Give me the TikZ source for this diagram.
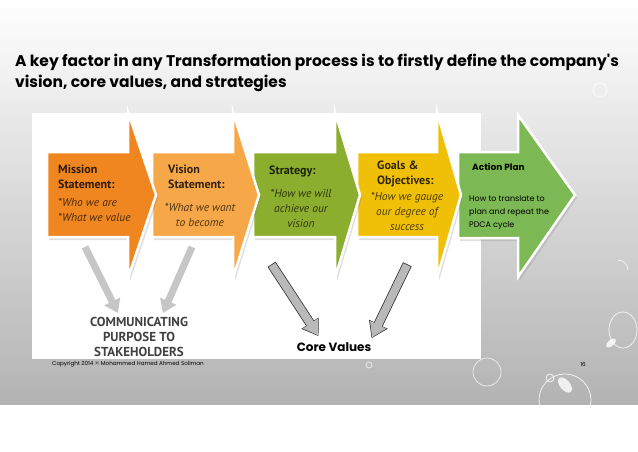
\documentclass[tikz,border=0pt]{standalone}
\usepackage{fontspec}
\usetikzlibrary{arrows.meta,positioning,shadows}
\newfontfamily\gothic{Poppins}
\newfontfamily\myriad{PT Sans}
\definecolor{missionorange}{RGB}{240,134,32}
\definecolor{visionorange}{RGB}{246,168,72}
\definecolor{strategygreen}{RGB}{140,174,46}
\definecolor{goalyellow}{RGB}{240,192,8}
\definecolor{actiongreen}{RGB}{124,185,84}
\definecolor{commgray}{RGB}{64,64,64}

\begin{document}
\begin{tikzpicture}[
    x=1pt,y=-1pt,
    stage/.style={fill=#1,draw=white,line width=2.5pt,line join=miter,
                  drop shadow={opacity=0.25,shadow xshift=2pt,shadow yshift=-3pt}},
    head/.style={font=\myriad\bfseries\fontsize{12}{15}\selectfont,align=left,
                 inner sep=0pt,text=black,text opacity=0.8},
    body/.style={font=\myriad\itshape\fontsize{11.5}{15}\selectfont,
                 inner sep=0pt,text=black,text opacity=0.68},
    commarrow/.style={draw=gray!45,line width=7pt,-{Triangle[width=17pt,length=13pt]}},
    corearrow/.style={draw=gray!55,line width=8pt,-{Triangle[width=17pt,length=14pt]},
                      preaction={draw=gray!40!black,line width=9.6pt,
                                 -{Triangle[width=19.5pt,length=15.5pt]},
                                 shorten >=-1pt,shorten <=-0.8pt}},
    >=Latex
  ]
    % slide background
    \fill[white] (0,0) rectangle (638,452);
    \shade[top color=white,middle color=black!7,bottom color=black!30]
      (0,0) rectangle (638,404);
    \fill[white] (32,113) rectangle (481,359);

    % bubbles
    \draw[white,thick,opacity=0.8] (600,90) circle (7);
    \draw[white,thick,opacity=0.8] (623,330) ellipse (14 and 18);
    \fill[white,opacity=0.8,rotate around={-50:(611,343)}] (611,343) ellipse (3 and 6);
    \draw[white,thick,opacity=0.8] (565,400) circle (26);
    \fill[white,opacity=0.8,rotate around={40:(565,385)}] (565,385) ellipse (5 and 9);
    \draw[white,thick,opacity=0.8] (550,378) circle (4);
    \draw[white,thick,opacity=0.7] (487,372) circle (14);
    \draw[white,thick,opacity=0.7] (369,365) circle (3);
    \draw[white,thick,opacity=0.7] (628,270) arc (0:-90:10);

    % title
    \node[anchor=base west,inner sep=0pt,font=\gothic\bfseries\fontsize{15.5}{20}\selectfont]
      (title1) at (15,67) {A key factor in any Transformation process is to firstly define the company's};
    \node[anchor=base west,inner sep=0pt,font=\gothic\bfseries\fontsize{15.5}{20}\selectfont]
      (title2) at (15,88) {vision, core values, and strategies};

    % stage arrows, last one first
    \path[stage=actiongreen] (458,152) -- (518,152) -- (518,115) -- (575,195)
      -- (518,277) -- (518,238) -- (458,238) -- cycle;
    \path[stage=goalyellow] (357,152) -- (437,152) -- (437,112) -- (461,195)
      -- (437,278) -- (437,237) -- (357,237) -- cycle;
    \path[stage=strategygreen] (253,152) -- (335,152) -- (335,112) -- (360,195)
      -- (335,278) -- (335,237) -- (253,237) -- cycle;
    \path[stage=visionorange] (152,152) -- (233,152) -- (233,112) -- (259,195)
      -- (233,278) -- (233,237) -- (152,237) -- cycle;
    \path[stage=missionorange] (47,152) -- (128,152) -- (128,112) -- (156,195)
      -- (128,278) -- (128,237) -- (47,237) -- cycle;

    % stage texts
    \node[head,anchor=north west] (mission) at (58,165) {Mission\\Statement:};
    \node[body,align=left,below=9pt of mission.south west,anchor=north west]
      (missiontxt) {*Who we are\\*What we value};
    \node[head,anchor=north west] (vision) at (168,165) {Vision\\Statement:};
    \node[body,align=center,anchor=north] (visiontxt) at (200,203) {*What we want\\to become};
    \node[head,anchor=north west] (strategy) at (269,166) {Strategy:};
    \node[body,align=center,anchor=north] (strategytxt) at (301,189) {*How we will\\achieve our\\vision};
    \node[head,anchor=north west] (goals) at (377,161) {Goals \&\\Objectives:};
    \node[body,align=center,anchor=north] (goalstxt) at (407,192) {*How we gauge\\our degree of\\success};
    \node[anchor=north west,inner sep=0pt,font=\gothic\bfseries\fontsize{9}{10}\selectfont]
      (action) at (472,163) {Action Plan};
    \node[anchor=north west,inner sep=0pt,align=left,font=\gothic\fontsize{8}{13}\selectfont]
      (actiontxt) at (469,195) {How to translate to\\plan and repeat the\\PDCA cycle};

    % lower texts
    \node[align=center,inner sep=2pt,text=commgray,font=\myriad\bfseries\fontsize{13}{15}\selectfont]
      (comm) at (139,337) {COMMUNICATING\\PURPOSE TO\\STAKEHOLDERS};
    \node[inner sep=2pt,font=\gothic\bfseries\fontsize{12}{14}\selectfont] (core) at (334,347) {Core Values};
    \node[anchor=west,inner sep=0pt,font=\gothic\fontsize{5.6}{7}\selectfont]
      (copyright) at (52,364) {Copyright 2014 © Mohammed Hamed Ahmed Soliman};
    \node[inner sep=0pt,font=\gothic\fontsize{5.6}{7}\selectfont] (page) at (583,364) {16};

    % connectors
    \coordinate (missiontail) at (85,247);
    \coordinate (visiontail) at (192,247);
    \coordinate (strategytail) at (272,265);
    \coordinate (goalstail) at (407,265);
    \draw[commarrow] (missiontail) -- ([xshift=-21pt,yshift=2pt]comm.north);
    \draw[commarrow] (visiontail) -- ([xshift=24pt,yshift=2pt]comm.north);
    \draw[corearrow] (strategytail) -- ([xshift=-16pt,yshift=5pt]core.north);
    \draw[corearrow] (goalstail) -- ([xshift=38pt,yshift=3pt]core.north);
  \end{tikzpicture}
\end{document}
